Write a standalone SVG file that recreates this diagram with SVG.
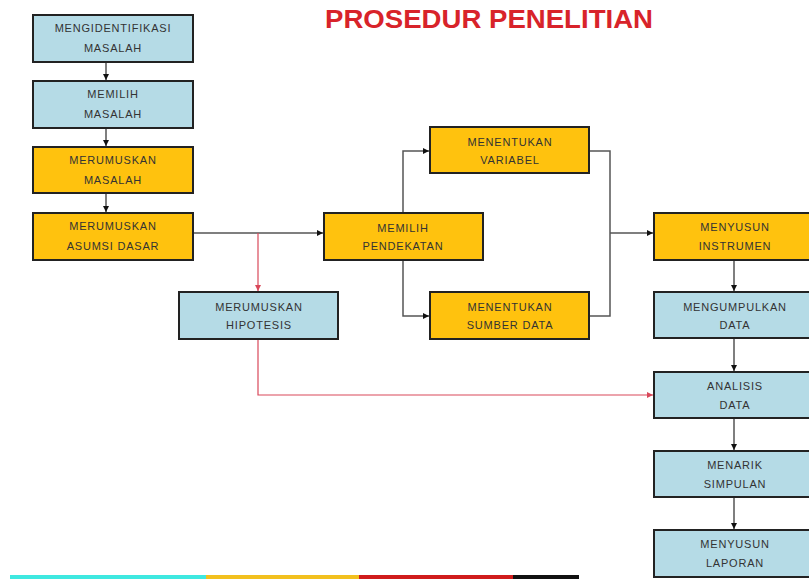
<svg xmlns="http://www.w3.org/2000/svg" width="809" height="579" viewBox="0 0 809 579">
<style>
.box{stroke:#222;stroke-width:2}
.blue{fill:#b5dbe6}
.yel{fill:#ffc20e}
.t{font-family:"Liberation Sans",Arial,sans-serif;font-size:11px;letter-spacing:0.8px;fill:#333;text-anchor:middle}
.c{fill:none;stroke:#555;stroke-width:1.5}
.r{fill:none;stroke:#d9485a;stroke-width:1.2}
.title{font-family:"Liberation Sans",Arial,sans-serif;font-weight:bold;font-size:26px;fill:#d8232a;text-anchor:middle}
</style>
<defs>
<marker id="ab" viewBox="0 0 10 10" refX="10" refY="5" markerWidth="6" markerHeight="6" orient="auto" markerUnits="userSpaceOnUse"><path d="M0,0 L10,5 L0,10 z" fill="#111"/></marker>
<marker id="ar" viewBox="0 0 10 10" refX="10" refY="5" markerWidth="6" markerHeight="6" orient="auto" markerUnits="userSpaceOnUse"><path d="M0,0 L10,5 L0,10 z" fill="#d9485a"/></marker>
</defs>
<rect width="809" height="579" fill="#ffffff"/>
<text class="title" x="489" y="28" textLength="328" lengthAdjust="spacingAndGlyphs">PROSEDUR PENELITIAN</text>

<g id="connectors">
<path class="c" d="M106,62 V80" marker-end="url(#ab)"/>
<path class="c" d="M106,128 V146" marker-end="url(#ab)"/>
<path class="c" d="M106,193 V212" marker-end="url(#ab)"/>
<path class="c" d="M193,233 H323" marker-end="url(#ab)"/>
<path class="r" d="M258,233 V291" marker-end="url(#ar)"/>
<path class="c" d="M403,213 V151 H429" marker-end="url(#ab)"/>
<path class="c" d="M403,260 V316 H429" marker-end="url(#ab)"/>
<path class="c" d="M589,151 H610 V316 H589"/>
<path class="c" d="M610,233 H653" marker-end="url(#ab)"/>
<path class="r" d="M258,339 V395 H653" marker-end="url(#ar)"/>
<path class="c" d="M734,260 V291" marker-end="url(#ab)"/>
<path class="c" d="M734,338 V371" marker-end="url(#ab)"/>
<path class="c" d="M734,418 V450" marker-end="url(#ab)"/>
<path class="c" d="M734,497 V529" marker-end="url(#ab)"/>
</g>

<g id="n1"><rect class="box blue" x="33" y="15" width="160" height="47"/><text class="t" x="113" y="32">MENGIDENTIFIKASI</text><text class="t" x="113" y="52">MASALAH</text></g>
<g id="n2"><rect class="box blue" x="33" y="81" width="160" height="47"/><text class="t" x="113" y="98">MEMILIH</text><text class="t" x="113" y="118">MASALAH</text></g>
<g id="n3"><rect class="box yel" x="33" y="147" width="160" height="46"/><text class="t" x="113" y="164">MERUMUSKAN</text><text class="t" x="113" y="184">MASALAH</text></g>
<g id="n4"><rect class="box yel" x="33" y="213" width="160" height="47"/><text class="t" x="113" y="230">MERUMUSKAN</text><text class="t" x="113" y="250">ASUMSI DASAR</text></g>
<g id="n5"><rect class="box blue" x="179" y="292" width="159" height="47"/><text class="t" x="259" y="311">MERUMUSKAN</text><text class="t" x="259" y="329">HIPOTESIS</text></g>
<g id="n6"><rect class="box yel" x="324" y="213" width="159" height="47"/><text class="t" x="403" y="232">MEMILIH</text><text class="t" x="403" y="250">PENDEKATAN</text></g>
<g id="n7"><rect class="box yel" x="430" y="127" width="159" height="46"/><text class="t" x="510" y="146">MENENTUKAN</text><text class="t" x="510" y="164">VARIABEL</text></g>
<g id="n8"><rect class="box yel" x="430" y="292" width="159" height="47"/><text class="t" x="510" y="311">MENENTUKAN</text><text class="t" x="510" y="329">SUMBER DATA</text></g>
<g id="n9"><rect class="box yel" x="654" y="213" width="161" height="47"/><text class="t" x="735" y="231">MENYUSUN</text><text class="t" x="735" y="250">INSTRUMEN</text></g>
<g id="n10"><rect class="box blue" x="654" y="292" width="161" height="46"/><text class="t" x="735" y="311">MENGUMPULKAN</text><text class="t" x="735" y="329">DATA</text></g>
<g id="n11"><rect class="box blue" x="654" y="372" width="161" height="46"/><text class="t" x="735" y="390">ANALISIS</text><text class="t" x="735" y="409">DATA</text></g>
<g id="n12"><rect class="box blue" x="654" y="451" width="161" height="46"/><text class="t" x="735" y="469">MENARIK</text><text class="t" x="735" y="488">SIMPULAN</text></g>
<g id="n13"><rect class="box blue" x="654" y="530" width="161" height="47"/><text class="t" x="735" y="548">MENYUSUN</text><text class="t" x="735" y="567">LAPORAN</text></g>

<g id="stripe">
<rect x="10" y="575" width="196" height="4" fill="#3ee8e0"/>
<rect x="206" y="575" width="153" height="4" fill="#f2c01e"/>
<rect x="359" y="575" width="154" height="4" fill="#d01c1c"/>
<rect x="513" y="575" width="66" height="4" fill="#111"/>
</g>
</svg>
